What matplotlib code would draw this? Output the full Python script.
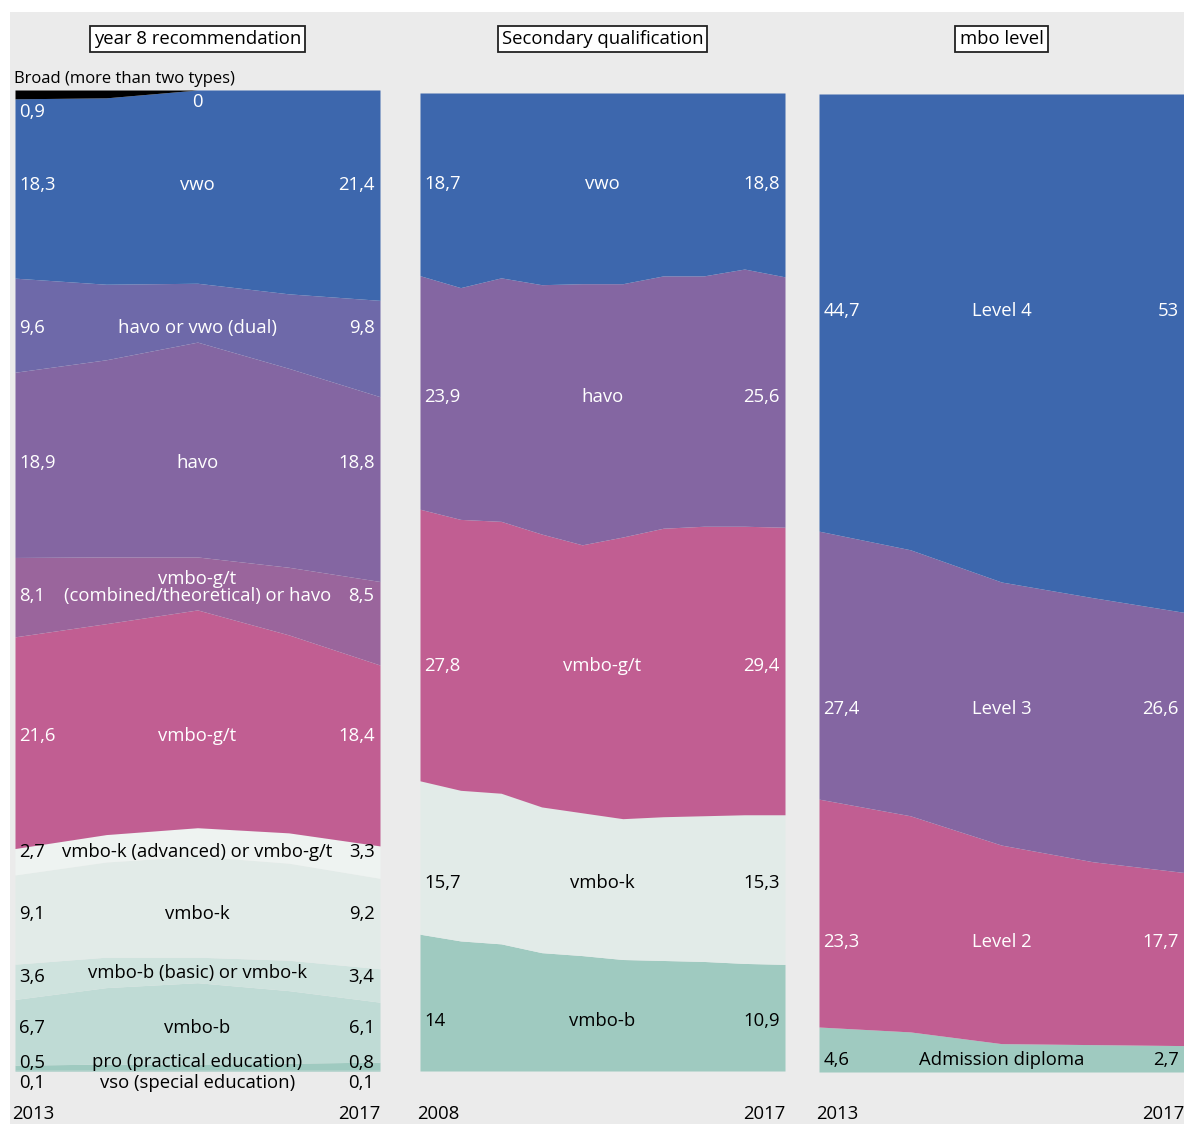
import matplotlib
matplotlib.use("Agg")
import matplotlib.pyplot as plt
import matplotlib.transforms as mtransforms
from matplotlib.patches import Rectangle
import numpy as np

plt.rcParams['font.family'] = ['Open Sans', 'DejaVu Sans']

# ---- data (percentages, bottom layer first) ----
years_y8 = [2013, 2014, 2015, 2016, 2017]
names_y8 = ['vso (special education)', 'pro (practical education)', 'vmbo-b',
            'vmbo-b (basic) or vmbo-k', 'vmbo-k', 'vmbo-k (advanced) or vmbo-g/t',
            'vmbo-g/t', 'vmbo-g/t\n(combined/theoretical) or havo', 'havo',
            'havo or vwo (dual)', 'vwo', 'Broad (more than two types)']
vso_y8 = [0.1, 0.1, 0.1, 0.1, 0.1]
pro_y8 = [0.5, 0.6, 0.6, 0.7, 0.8]
b_y8 = [6.7, 7.8, 8.3, 7.4, 6.1]
bk_y8 = [3.6, 3.1, 2.6, 3.1, 3.4]
k_y8 = [9.1, 9.7, 10.3, 9.9, 9.2]
kgt_y8 = [2.7, 2.8, 2.9, 3.1, 3.3]
gt_y8 = [21.6, 21.5, 22.2, 20.2, 18.4]
gthavo_y8 = [8.1, 6.8, 5.4, 6.9, 8.5]
havo_y8 = [18.9, 20.1, 21.9, 20.3, 18.8]
hvwo_y8 = [9.6, 7.7, 6.0, 7.6, 9.8]
vwo_y8 = [18.3, 19.0, 19.7, 20.8, 21.4]
broad_y8 = [0.9, 0.8, 0.0, 0.0, 0.0]

years_sq = [2008, 2009, 2010, 2011, 2012, 2013, 2014, 2015, 2016, 2017]
names_sq = ['vmbo-b', 'vmbo-k', 'vmbo-g/t', 'havo', 'vwo']
b_sq = [14.0, 13.3, 13.0, 12.1, 11.8, 11.4, 11.3, 11.2, 11.0, 10.9]
k_sq = [15.7, 15.4, 15.4, 14.9, 14.6, 14.4, 14.7, 14.9, 15.2, 15.3]
gt_sq = [27.8, 27.7, 27.8, 27.9, 27.4, 28.8, 29.5, 29.6, 29.5, 29.4]
havo_sq = [23.9, 23.7, 24.9, 25.5, 26.7, 25.9, 25.8, 25.6, 26.3, 25.6]
vwo_sq = [18.7, 19.9, 18.9, 19.6, 19.5, 19.5, 18.7, 18.7, 18.0, 18.8]

years_mbo = [2013, 2014, 2015, 2016, 2017]
names_mbo = ['Admission diploma', 'Level 2', 'Level 3', 'Level 4']
adm_mbo = [4.6, 4.1, 2.9, 2.8, 2.7]
l2_mbo = [23.3, 22.1, 20.3, 18.7, 17.7]
l3_mbo = [27.4, 27.2, 26.9, 27.0, 26.6]
l4_mbo = [44.7, 46.6, 49.9, 51.5, 53.0]

# ---- styles ----
BLUE = '#3d67ad'
PURPLE = '#8466a2'
PINK = '#c15e92'
cols_y8 = ['#8fc3b8', '#9fcac0', '#bfdbd5', '#cfe3de', '#e2ebe8', '#eef3f1',
           PINK, '#9a659c', PURPLE, '#6e69a9', BLUE, '#000000']
txt_y8 = ['black'] * 6 + ['white'] * 5 + ['black']
cols_sq = ['#9fcac0', '#e2ebe8', PINK, PURPLE, BLUE]
txt_sq = ['black', 'black', 'white', 'white', 'white']
cols_mbo = ['#9fcac0', PINK, PURPLE, BLUE]
txt_mbo = ['black', 'white', 'white', 'white']

FS = 13.3


def fmt(v):
    return ('%g' % v).replace('.', ',')


fig = plt.figure(figsize=(11.84, 11.24), dpi=100, facecolor='white')
fig.patches.append(Rectangle((10 / 1184, 0), 1, 1 - 12 / 1124, transform=fig.transFigure,
                             facecolor='#ebebeb', edgecolor='none', zorder=-10))


def panel(rect, years, layers, names, colors, tcolors, title, offsets=None, skip=()):
    ax = fig.add_axes(rect)
    data = np.array(layers, dtype=float)
    shares = data / data.sum(axis=0) * 100  # 100% stacked
    ax.stackplot(years, shares, colors=colors, linewidth=0, edgecolor='face')
    ax.set_xlim(years[0], years[-1])
    ax.set_ylim(0, 100)
    ax.axis('off')
    offsets = offsets or {}
    cum = np.cumsum(shares, axis=0)
    lower = cum - shares
    tr = mtransforms.blended_transform_factory(ax.transAxes, ax.transData)
    for i, name in enumerate(names):
        if i in skip:
            continue
        yc = ((cum[i] + lower[i]) / 2).mean()
        dn, dv = offsets.get(i, (0, 0))
        c = tcolors[i]
        ax.text(0.5, yc + dn, name, ha='center', va='center', color=c, fontsize=FS,
                transform=tr, linespacing=0.92)
        ax.text(0.012, yc + dv, fmt(data[i][0]), ha='left', va='center', color=c,
                fontsize=FS, transform=tr)
        ax.text(0.985, yc + dv, fmt(data[i][-1]), ha='right', va='center', color=c,
                fontsize=FS, transform=tr)
    ty = mtransforms.blended_transform_factory(ax.transAxes, fig.transFigure)
    ax.text(0.5, 1 - 39 / 1124, title, ha='center', va='center', fontsize=FS,
            transform=ty, bbox=dict(boxstyle='square,pad=0.22', facecolor='white',
                                    edgecolor='#222222', linewidth=1.3))
    ax.text(-0.008, 1 - 1114 / 1124, str(years[0]), ha='left', va='center',
            fontsize=FS, transform=ty)
    ax.text(1.0, 1 - 1114 / 1124, str(years[-1]), ha='right', va='center',
            fontsize=FS, transform=ty)
    return ax, tr


ax1, tr1 = panel([15 / 1184, 1 - 1071 / 1124, 365 / 1184, 981 / 1124], years_y8,
                 [vso_y8, pro_y8, b_y8, bk_y8, k_y8, kgt_y8, gt_y8, gthavo_y8,
                  havo_y8, hvwo_y8, vwo_y8, broad_y8],
                 names_y8, cols_y8, txt_y8, 'year 8 recommendation',
                 offsets={0: (-1.3, -1.3), 1: (0.5, 0.4), 3: (0.4, 0), 7: (1.2, 0.3),
                          8: (0.3, 0.3), 10: (0.6, 0.6)},
                 skip=(11,))
# broad category sits above the plot
ax1.text(-0.003, 101.1, names_y8[11], ha='left', va='center', fontsize=12, color='black',
         transform=tr1, clip_on=False)
ax1.text(0.012, 97.8, fmt(broad_y8[0]), ha='left', va='center', fontsize=FS, color='white',
         transform=tr1)
ax1.text(0.5, 98.8, fmt(broad_y8[-1]), ha='center', va='center', fontsize=FS, color='white',
         transform=tr1)

panel([420 / 1184, 1 - 1071 / 1124, 365 / 1184, 978 / 1124], years_sq,
      [b_sq, k_sq, gt_sq, havo_sq, vwo_sq], names_sq, cols_sq, txt_sq,
      'Secondary qualification', offsets={0: (-0.9, -0.9), 1: (-0.3, -0.3), 2: (0.1, 0.1),
                                          3: (0.6, 0.6), 4: (0.2, 0.2)})

panel([819 / 1184, 1 - 1072 / 1124, 365 / 1184, 978 / 1124], years_mbo,
      [adm_mbo, l2_mbo, l3_mbo, l4_mbo], names_mbo, cols_mbo, txt_mbo,
      'mbo level', offsets={3: (2.4, 2.4), 2: (-0.2, -0.2), 1: (-0.3, -0.3), 0: (-0.5, -0.5)})

fig.savefig('out.png', dpi=100, facecolor='white')
